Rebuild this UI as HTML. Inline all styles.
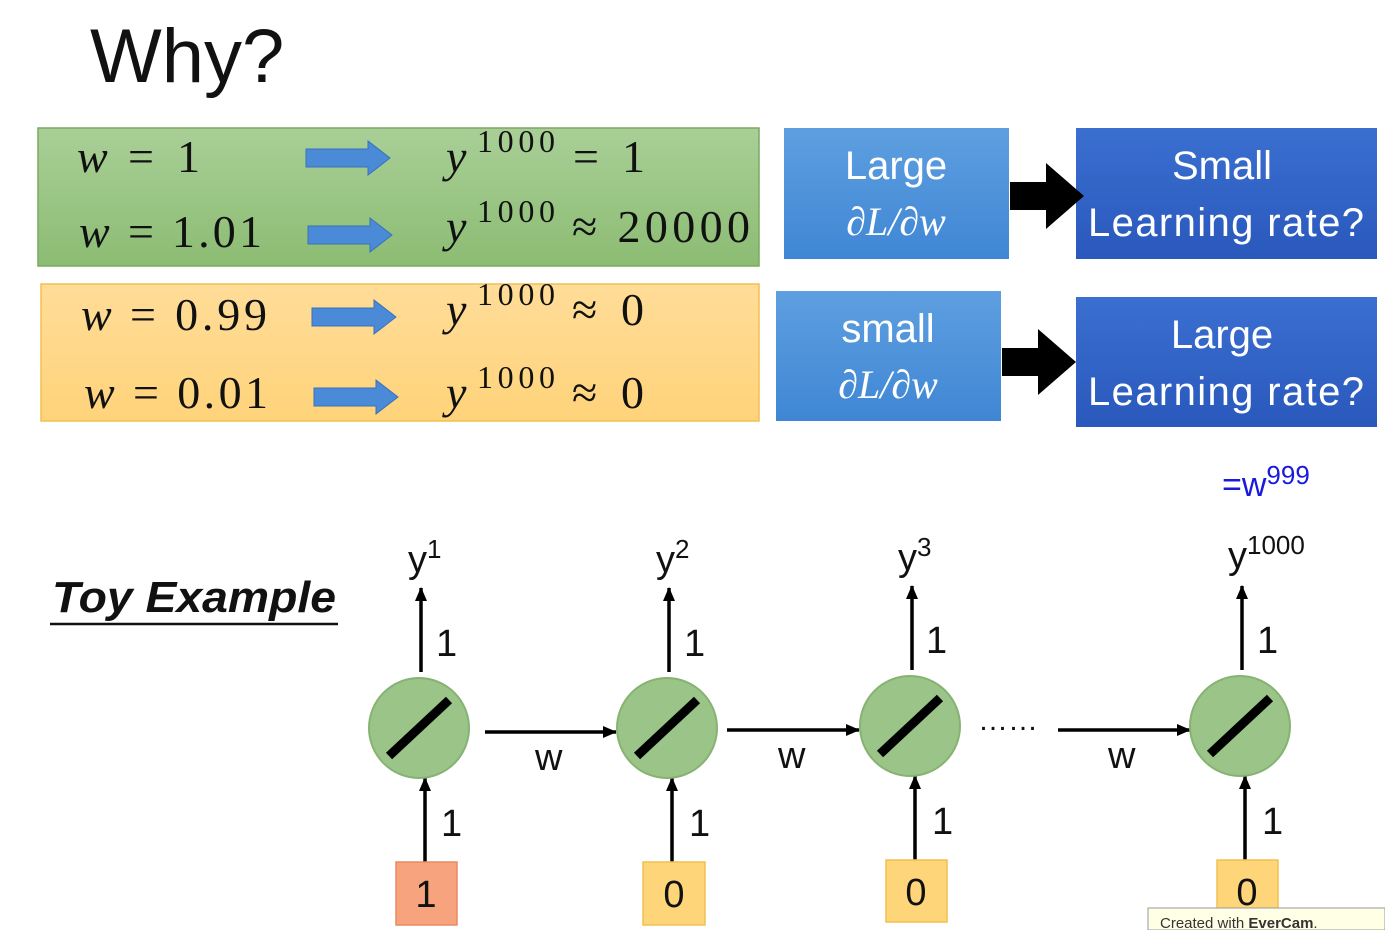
<!DOCTYPE html>
<html><head><meta charset="utf-8"><style>
body{margin:0;background:#fff;}
svg{display:block;}
.m{font-family:"Liberation Serif",serif;font-style:italic;}
.n{font-family:"Liberation Serif",serif;font-style:normal;}
.s{font-family:"Liberation Sans","DejaVu Sans",sans-serif;}
</style></head><body>
<svg width="1385" height="930" viewBox="0 0 1385 930" xmlns="http://www.w3.org/2000/svg">
<defs>
<linearGradient id="g" x1="0" y1="0" x2="0" y2="1"><stop offset="0" stop-color="#a9cf97"/><stop offset="1" stop-color="#8cbc73"/></linearGradient>
<linearGradient id="o" x1="0" y1="0" x2="0" y2="1"><stop offset="0" stop-color="#ffdc98"/><stop offset="1" stop-color="#ffd37a"/></linearGradient>
<linearGradient id="b1" x1="0" y1="0" x2="0" y2="1"><stop offset="0" stop-color="#5e9fe0"/><stop offset="1" stop-color="#3f86d4"/></linearGradient>
<linearGradient id="b2" x1="0" y1="0" x2="0" y2="1"><stop offset="0" stop-color="#3a6fd0"/><stop offset="1" stop-color="#2a58bc"/></linearGradient>
<marker id="ah" markerWidth="14" markerHeight="12" refX="13" refY="6" orient="auto" markerUnits="userSpaceOnUse"><path d="M0,0 L14,6 L0,12 z" fill="#000"/></marker>
<g id="ba"><path d="M0,-9 H62 V-17 L84,0 L62,17 V9 H0 z" fill="#4a8ad6" stroke="#3a72b8" stroke-width="1"/></g>
<g id="node"><circle r="50" fill="#9bc488" stroke="#86b272" stroke-width="2"/><line x1="-30" y1="28" x2="30" y2="-28" stroke="#000" stroke-width="9"/></g>
</defs>
<text x="90" y="82" class="s" font-size="76" fill="#111">Why?</text>

<rect x="38" y="128" width="721" height="138" fill="url(#g)" stroke="#7aa960" stroke-width="1.5"/>
<rect x="41" y="284" width="718" height="137" fill="url(#o)" stroke="#f0c050" stroke-width="1.5"/>

<g font-size="46" fill="#111">
<text x="77" y="172" class="m">w</text><text x="128" y="172" class="n" textLength="72">= 1</text>
<text x="79" y="247" class="m">w</text><text x="128" y="247" class="n" textLength="134">= 1.01</text>
<text x="81" y="330" class="m">w</text><text x="130" y="330" class="n" textLength="137">= 0.99</text>
<text x="84" y="408" class="m">w</text><text x="133" y="408" class="n" textLength="135">= 0.01</text>

<text x="446" y="172" class="m">y</text><text x="477" y="152" class="n" font-size="32" textLength="78">1000</text><text x="573" y="172" class="n" textLength="72">= 1</text>
<text x="446" y="242" class="m">y</text><text x="477" y="222" class="n" font-size="32" textLength="78">1000</text><text x="572" y="242" class="n" textLength="178">≈ 20000</text>
<text x="446" y="325" class="m">y</text><text x="477" y="305" class="n" font-size="32" textLength="78">1000</text><text x="572" y="325" class="n" textLength="72">≈ 0</text>
<text x="446" y="408" class="m">y</text><text x="477" y="388" class="n" font-size="32" textLength="78">1000</text><text x="572" y="408" class="n" textLength="72">≈ 0</text>
</g>
<use href="#ba" x="306" y="158"/>
<use href="#ba" x="308" y="235"/>
<use href="#ba" x="312" y="317"/>
<use href="#ba" x="314" y="397"/>

<rect x="784" y="128" width="225" height="131" fill="url(#b1)"/>
<rect x="776" y="291" width="225" height="130" fill="url(#b1)"/>
<rect x="1076" y="128" width="301" height="131" fill="url(#b2)"/>
<rect x="1076" y="297" width="301" height="130" fill="url(#b2)"/>
<g fill="#fff" font-size="40" text-anchor="middle">
<text x="896" y="179" class="s">Large</text>
<text x="896" y="235" class="m">∂L/∂w</text>
<text x="888" y="342" class="s">small</text>
<text x="888" y="398" class="m">∂L/∂w</text>
<text x="1222" y="179" class="s">Small</text>
<text x="1226" y="236" class="s" textLength="276">Learning rate?</text>
<text x="1222" y="348" class="s">Large</text>
<text x="1226" y="405" class="s" textLength="276">Learning rate?</text>
</g>
<path d="M1010,182 H1046 V163 L1084,196 L1046,229 V210 H1010 z" fill="#000"/>
<path d="M1002,348 H1038 V329 L1076,362 L1038,395 V376 H1002 z" fill="#000"/>

<text x="1222" y="496" class="s" font-size="34" fill="#1a1adc">=w<tspan font-size="26" dy="-12">999</tspan></text>

<text x="52" y="612" class="s" font-size="44" font-weight="bold" font-style="italic" fill="#111" textLength="284" lengthAdjust="spacingAndGlyphs">Toy Example</text>
<line x1="50" y1="624" x2="338" y2="624" stroke="#111" stroke-width="2.5"/>

<g stroke="#000" stroke-width="3.5" marker-end="url(#ah)">
<line x1="421" y1="672" x2="421" y2="588"/>
<line x1="669" y1="672" x2="669" y2="588"/>
<line x1="912" y1="670" x2="912" y2="586"/>
<line x1="1242" y1="670" x2="1242" y2="586"/>
<line x1="425" y1="862" x2="425" y2="778"/>
<line x1="672" y1="862" x2="672" y2="778"/>
<line x1="915" y1="860" x2="915" y2="776"/>
<line x1="1245" y1="860" x2="1245" y2="776"/>
<line x1="485" y1="732" x2="616" y2="732"/>
<line x1="727" y1="730" x2="859" y2="730"/>
<line x1="1058" y1="730" x2="1190" y2="730"/>
</g>
<use href="#node" x="419" y="728"/>
<use href="#node" x="667" y="728"/>
<use href="#node" x="910" y="726"/>
<use href="#node" x="1240" y="726"/>

<rect x="396" y="862" width="61" height="63" fill="#f7a47e" stroke="#e88a60" stroke-width="1.5"/>
<rect x="643" y="862" width="62" height="63" fill="#ffd57a" stroke="#f0c050" stroke-width="1.5"/>
<rect x="886" y="860" width="61" height="62" fill="#ffd57a" stroke="#f0c050" stroke-width="1.5"/>
<rect x="1217" y="860" width="61" height="62" fill="#ffd57a" stroke="#f0c050" stroke-width="1.5"/>

<g class="s" font-size="38" fill="#111">
<text x="426" y="907" text-anchor="middle">1</text>
<text x="674" y="907" text-anchor="middle">0</text>
<text x="916" y="905" text-anchor="middle">0</text>
<text x="1247" y="905" text-anchor="middle">0</text>
<text x="436" y="656">1</text><text x="684" y="656">1</text><text x="926" y="653">1</text><text x="1257" y="653">1</text>
<text x="441" y="836">1</text><text x="689" y="836">1</text><text x="932" y="834">1</text><text x="1262" y="834">1</text>
<text x="535" y="770">w</text><text x="778" y="768">w</text><text x="1108" y="768">w</text>
<text x="408" y="572">y<tspan font-size="26" dy="-14">1</tspan></text>
<text x="656" y="572">y<tspan font-size="26" dy="-14">2</tspan></text>
<text x="898" y="570">y<tspan font-size="26" dy="-14">3</tspan></text>
<text x="1228" y="568">y<tspan font-size="26" dy="-14">1000</tspan></text>
<text x="978" y="730" font-size="30">……</text>
</g>

<rect x="1148" y="908" width="237" height="22" fill="#ffffe6" stroke="#999" stroke-width="1"/>
<text x="1160" y="928" class="s" font-size="15" fill="#333">Created with <tspan font-weight="bold">EverCam</tspan>.</text>
</svg>
</body></html>
